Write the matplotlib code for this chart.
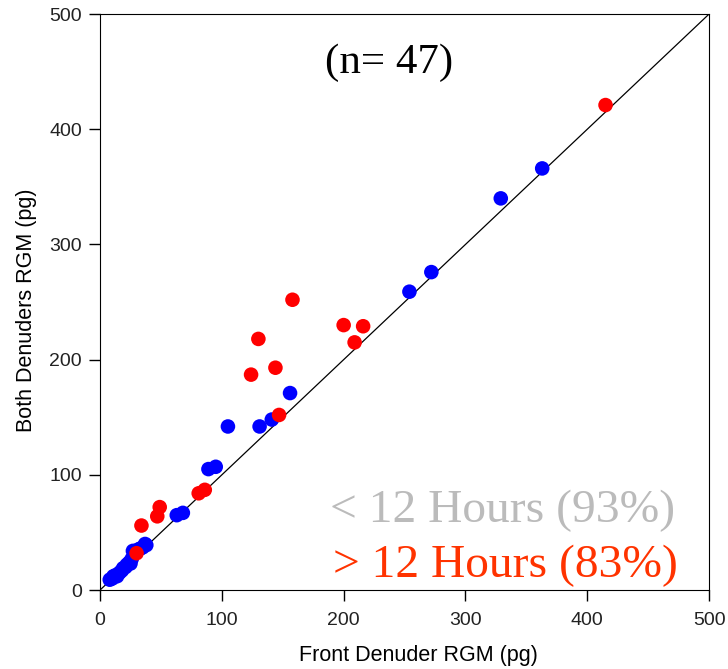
import numpy as np
import matplotlib.pyplot as plt

# < 12 hours samples (blue)
short_x = [8, 10, 11, 13, 14, 16, 18, 19, 21, 22, 24, 25, 26, 27, 29, 31, 33, 35, 37, 38,
           63, 68, 89, 95, 105, 131, 141, 156, 254, 272, 329, 363]
short_y = [9, 10, 12, 13, 12, 15, 17, 19, 20, 22, 24, 23, 27, 34, 33, 35, 36, 37, 40, 39,
           65, 67, 105, 107, 142, 142, 148, 171, 259, 276, 340, 366]

# > 12 hours samples (red)
long_x = [30, 34, 47, 49, 81, 86, 124, 130, 144, 147, 158, 200, 209, 216, 415]
long_y = [32, 56, 64, 72, 84, 87, 187, 218, 193, 152, 252, 230, 215, 229, 421]

fig = plt.figure(figsize=(7.28, 6.69), dpi=100)
ax = fig.add_axes([0.1374, 0.118, 0.8366, 0.861])

ax.plot([0, 500], [0, 500], color='black', lw=0.9, zorder=1)
ax.scatter(short_x, short_y, s=110, color='#0000ff', edgecolors='none', zorder=2)
ax.scatter(long_x, long_y, s=110, color='#ff0000', edgecolors='none', zorder=3)

ax.set_xlim(0, 500)
ax.set_ylim(0, 500)
ax.set_xticks(np.arange(0, 501, 100))
ax.set_yticks(np.arange(0, 501, 100))
ax.tick_params(direction='out', length=8, width=1, labelsize=14,
               labelcolor='#222222', top=False, right=False)
for lab in ax.get_xticklabels() + ax.get_yticklabels():
    lab.set_family('Liberation Sans')
ax.xaxis.set_tick_params(pad=8)
ax.yaxis.set_tick_params(pad=5)

ax.set_xlabel('Front Denuder RGM (pg)', fontsize=15.5, family='Liberation Sans')
ax.set_ylabel('Both Denuders RGM (pg)', fontsize=15.5, family='Liberation Sans')
ax.xaxis.set_label_coords(0.522, -0.095)
ax.yaxis.set_label_coords(-0.103, 0.486)

ax.text(237, 458, '(n= 47)', fontsize=31, family='Liberation Serif',
        ha='center', va='center')
ax.text(472, 69, '< 12 Hours (93%)', fontsize=34.2, family='Liberation Serif',
        color='#bbbbbb', ha='right', va='center')
ax.text(474, 21, '> 12 Hours (83%)', fontsize=34.2, family='Liberation Serif',
        color='#ff3300', ha='right', va='center')

fig.savefig('out.png', dpi=100)
